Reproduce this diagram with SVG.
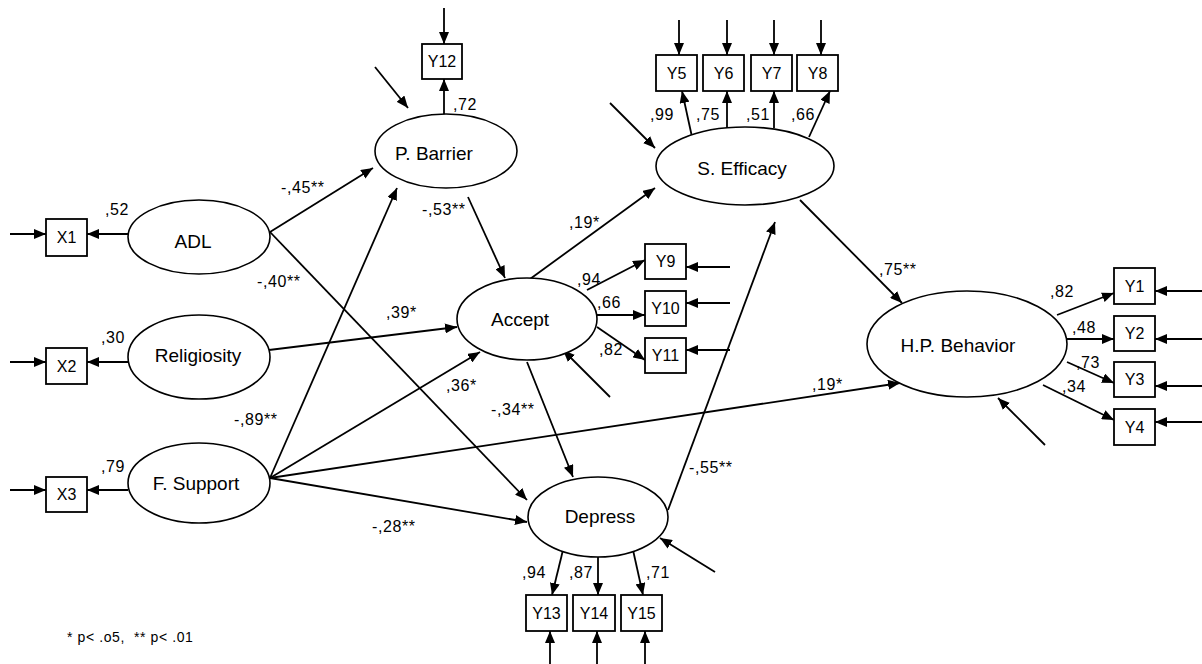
<svg xmlns="http://www.w3.org/2000/svg" width="1202" height="664" viewBox="0 0 1202 664">
<style>
.bg{fill:#fff}
.lat ellipse{fill:#fff;stroke:#000;stroke-width:1.6}
.obs rect{fill:#fff;stroke:#000;stroke-width:1.8}
.nl{font-family:"Liberation Sans",Arial,sans-serif;font-size:19px;fill:#000;text-anchor:middle}
.bl{font-family:"Liberation Sans",Arial,sans-serif;font-size:16px;fill:#000;text-anchor:middle}
.el{font-family:"Liberation Sans",Arial,sans-serif;font-size:16px;letter-spacing:0.6px;fill:#000}
#connectors line{stroke:#000;stroke-width:1.8;fill:none;marker-end:url(#ah)}
</style>
<defs>
<marker id="ah" viewBox="0 0 12 10" refX="12" refY="5" markerWidth="12" markerHeight="10" markerUnits="userSpaceOnUse" orient="auto">
<path d="M0,0 L12,5 L0,10 z" fill="#000"/>
</marker>
</defs>
<rect class="bg" x="0" y="0" width="1202" height="664"/>

<g id="connectors">
<line x1="10" y1="234" x2="46" y2="234"/>
<line x1="10" y1="362" x2="46" y2="362"/>
<line x1="10" y1="490" x2="46" y2="490"/>
<line x1="444" y1="8" x2="444" y2="44"/>
<line x1="679" y1="20" x2="679" y2="55"/>
<line x1="727" y1="20" x2="727" y2="55"/>
<line x1="774" y1="20" x2="774" y2="55"/>
<line x1="821" y1="20" x2="821" y2="55"/>
<line x1="730" y1="267" x2="686" y2="267"/>
<line x1="730" y1="303" x2="686" y2="303"/>
<line x1="730" y1="350" x2="686" y2="350"/>
<line x1="1202" y1="291" x2="1155" y2="291"/>
<line x1="1202" y1="339" x2="1155" y2="339"/>
<line x1="1202" y1="386" x2="1155" y2="386"/>
<line x1="1202" y1="422" x2="1155" y2="422"/>
<line x1="550" y1="664" x2="550" y2="631"/>
<line x1="597" y1="664" x2="597" y2="631"/>
<line x1="645" y1="664" x2="645" y2="631"/>
<line x1="375" y1="67" x2="408" y2="108"/>
<line x1="610" y1="103" x2="655" y2="148"/>
<line x1="610" y1="397" x2="563" y2="350"/>
<line x1="1045" y1="445" x2="998" y2="398"/>
<line x1="715" y1="572" x2="660" y2="538"/>
<line x1="128" y1="234" x2="87" y2="234"/>
<line x1="128" y1="362" x2="87" y2="362"/>
<line x1="128" y1="490" x2="87" y2="490"/>
<line x1="444" y1="115" x2="444" y2="79"/>
<line x1="692" y1="137" x2="682" y2="91"/>
<line x1="727" y1="128" x2="727" y2="91"/>
<line x1="774" y1="128" x2="774" y2="91"/>
<line x1="809" y1="137" x2="830" y2="91"/>
<line x1="587" y1="290" x2="645" y2="260"/>
<line x1="597" y1="315" x2="645" y2="315"/>
<line x1="597" y1="327" x2="645" y2="360"/>
<line x1="1057" y1="315" x2="1114" y2="293"/>
<line x1="1067" y1="339" x2="1114" y2="339"/>
<line x1="1067" y1="362" x2="1114" y2="383"/>
<line x1="1043" y1="385" x2="1114" y2="420"/>
<line x1="563" y1="550" x2="552" y2="595"/>
<line x1="598" y1="557" x2="598" y2="595"/>
<line x1="633" y1="550" x2="643" y2="595"/>
<line x1="270" y1="232" x2="373" y2="168"/>
<line x1="270" y1="232" x2="527" y2="500"/>
<line x1="269" y1="350" x2="457" y2="327"/>
<line x1="270" y1="478" x2="397" y2="188"/>
<line x1="270" y1="478" x2="480" y2="352"/>
<line x1="270" y1="478" x2="900" y2="383"/>
<line x1="270" y1="478" x2="527" y2="522"/>
<line x1="468" y1="197" x2="505" y2="278"/>
<line x1="530" y1="279" x2="655" y2="188"/>
<line x1="527" y1="362" x2="573" y2="477"/>
<line x1="668" y1="510" x2="775" y2="222"/>
<line x1="800" y1="200" x2="902" y2="303"/>
</g>

<g id="edge-labels" class="el">
<text x="105" y="215">,52</text>
<text x="101" y="343">,30</text>
<text x="101" y="472">,79</text>
<text x="453" y="110">,72</text>
<text x="650" y="120">,99</text>
<text x="696" y="120">,75</text>
<text x="746" y="120">,51</text>
<text x="791" y="120">,66</text>
<text x="281" y="193">-,45**</text>
<text x="422" y="215">-,53**</text>
<text x="569" y="228">,19*</text>
<text x="257" y="287">-,40**</text>
<text x="386" y="318">,39*</text>
<text x="577" y="285">,94</text>
<text x="597" y="308">,66</text>
<text x="599" y="355">,82</text>
<text x="446" y="391">,36*</text>
<text x="491" y="415">-,34**</text>
<text x="812" y="390">,19*</text>
<text x="234" y="425">-,89**</text>
<text x="372" y="532">-,28**</text>
<text x="689" y="473">-,55**</text>
<text x="879" y="275">,75**</text>
<text x="1050" y="297">,82</text>
<text x="1072" y="333">,48</text>
<text x="1076" y="368">,73</text>
<text x="1062" y="392">,34</text>
<text x="522" y="578">,94</text>
<text x="569" y="578">,87</text>
<text x="646" y="578">,71</text>
</g>

<g id="ADL" class="lat"><ellipse cx="199" cy="237" rx="71" ry="37"/><text class="nl" x="193" y="248">ADL</text></g>
<g id="Religiosity" class="lat"><ellipse cx="199" cy="357" rx="71" ry="42"/><text class="nl" x="198" y="362">Religiosity</text></g>
<g id="FSupport" class="lat"><ellipse cx="199" cy="483" rx="71" ry="40"/><text class="nl" x="196" y="490">F. Support</text></g>
<g id="PBarrier" class="lat"><ellipse cx="446" cy="151" rx="71" ry="37"/><text class="nl" x="434" y="160">P. Barrier</text></g>
<g id="SEfficacy" class="lat"><ellipse cx="745" cy="166" rx="89" ry="39"/><text class="nl" x="742" y="175">S. Efficacy</text></g>
<g id="Accept" class="lat"><ellipse cx="527" cy="319" rx="70" ry="41"/><text class="nl" x="520" y="326">Accept</text></g>
<g id="Depress" class="lat"><ellipse cx="598" cy="517" rx="70" ry="40"/><text class="nl" x="600" y="523">Depress</text></g>
<g id="HPBehavior" class="lat"><ellipse cx="967" cy="344" rx="100" ry="53"/><text class="nl" x="958" y="352">H.P. Behavior</text></g>

<g id="X1" class="obs"><rect x="46" y="219" width="41" height="37"/><text class="bl" x="66.5" y="243">X1</text></g>
<g id="X2" class="obs"><rect x="46" y="348" width="41" height="36"/><text class="bl" x="66.5" y="372">X2</text></g>
<g id="X3" class="obs"><rect x="46" y="477" width="41" height="35"/><text class="bl" x="66.5" y="500">X3</text></g>
<g id="Y12" class="obs"><rect x="422" y="44" width="40" height="35"/><text class="bl" x="442" y="67">Y12</text></g>
<g id="Y5" class="obs"><rect x="656" y="55" width="41" height="36"/><text class="bl" x="676.5" y="79">Y5</text></g>
<g id="Y6" class="obs"><rect x="703" y="55" width="41" height="36"/><text class="bl" x="723.5" y="79">Y6</text></g>
<g id="Y7" class="obs"><rect x="751" y="55" width="41" height="36"/><text class="bl" x="771.5" y="79">Y7</text></g>
<g id="Y8" class="obs"><rect x="797" y="55" width="41" height="36"/><text class="bl" x="817.5" y="79">Y8</text></g>
<g id="Y9" class="obs"><rect x="645" y="244" width="41" height="35"/><text class="bl" x="665.5" y="267">Y9</text></g>
<g id="Y10" class="obs"><rect x="645" y="291" width="41" height="35"/><text class="bl" x="665.5" y="314">Y10</text></g>
<g id="Y11" class="obs"><rect x="645" y="338" width="41" height="35"/><text class="bl" x="665.5" y="361">Y11</text></g>
<g id="Y1" class="obs"><rect x="1114" y="268" width="41" height="36"/><text class="bl" x="1134.5" y="292">Y1</text></g>
<g id="Y2" class="obs"><rect x="1114" y="316" width="41" height="35"/><text class="bl" x="1134.5" y="339">Y2</text></g>
<g id="Y3" class="obs"><rect x="1114" y="362" width="41" height="35"/><text class="bl" x="1134.5" y="385">Y3</text></g>
<g id="Y4" class="obs"><rect x="1114" y="409" width="41" height="36"/><text class="bl" x="1134.5" y="433">Y4</text></g>
<g id="Y13" class="obs"><rect x="526" y="595" width="41" height="36"/><text class="bl" x="546.5" y="619">Y13</text></g>
<g id="Y14" class="obs"><rect x="573" y="595" width="42" height="36"/><text class="bl" x="594" y="619">Y14</text></g>
<g id="Y15" class="obs"><rect x="621" y="595" width="41" height="36"/><text class="bl" x="641.5" y="619">Y15</text></g>

<g id="legend"><text class="el" x="67" y="642" style="font-size:14px;white-space:pre">* p&lt; .o5,  ** p&lt; .01</text></g>
</svg>
